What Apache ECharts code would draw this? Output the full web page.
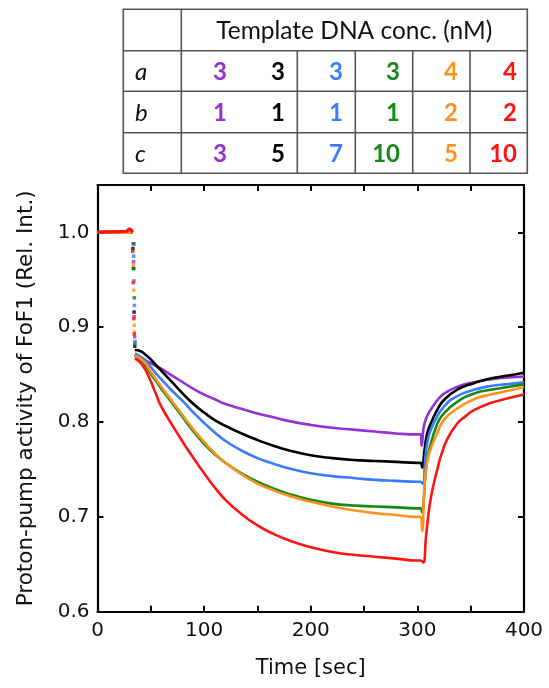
<!DOCTYPE html>
<html><head><meta charset="utf-8">
<script src="https://cdn.jsdelivr.net/npm/echarts@6/dist/echarts.min.js"></script>
<style>html,body{margin:0;padding:0;background:#fff}#c{width:549px;height:688px}</style>
</head><body><div id="c"></div>
<script>
// ---------- table content ----------
const tableHeader = 'Template DNA conc. (nM)';
const rowLabels = ['a', 'b', 'c'];
const rowA = [3, 3, 3, 3, 4, 4];
const rowB = [1, 1, 1, 1, 2, 2];
const rowC = [3, 5, 7, 10, 5, 10];

// ---------- series ----------
const seriesNames = ['purple', 'black', 'blue', 'green', 'orange', 'red'];
const seriesColors = ['#9430d8', '#000000', '#3a7bff', '#138a13', '#ff921f', '#ff1414'];

// baseline (before injection)
const purpleBase = [[0, 1.0], [33, 1.0]];
const blackBase  = [[0, 1.0], [33, 1.0]];
const blueBase   = [[0, 1.0], [33, 1.0]];
const greenBase  = [[0, 1.0], [33, 1.0]];
const orangeBase = [[0, 1.0], [33, 1.0]];
const redBase    = [[0, 1.0], [27, 1.001], [30, 1.004], [32, 1.002], [33, 1.0]];

// scattered points during the fast drop
const purpleDrop = [[33.4, 0.988], [33.8, 0.969], [34.4, 0.911], [34.8, 0.890]];
const blackDrop  = [[33.2, 0.983], [33.7, 0.962], [34.3, 0.916], [35.0, 0.880]];
const blueDrop   = [[33.9, 0.975], [34.2, 0.949], [34.6, 0.923], [35.2, 0.885]];
const greenDrop  = [[34.2, 0.988], [34.0, 0.962], [34.5, 0.931], [35.1, 0.883]];
const orangeDrop = [[33.6, 0.966], [34.1, 0.939], [34.4, 0.902], [34.7, 0.895]];
const redDrop    = [[33.0, 0.980], [33.5, 0.947], [34.0, 0.909], [34.4, 0.893]];

// main traces (decay, then recovery after t = 300 s)
const purpleCurve = [[35, 0.871], [40, 0.868], [45, 0.865], [50, 0.862], [55, 0.859], [60, 0.856], [70, 0.849], [80, 0.842],
  [90, 0.835], [100, 0.829], [110, 0.824], [120, 0.819], [135, 0.814], [150, 0.809], [165, 0.805], [180, 0.801], [200, 0.797],
  [220, 0.794], [240, 0.792], [260, 0.790], [280, 0.788], [300, 0.787], [303, 0.787], [304, 0.775], [306, 0.795],
  [309, 0.806], [312, 0.812], [318, 0.822], [325, 0.830], [337, 0.837], [353, 0.842], [368, 0.845], [385, 0.847], [400, 0.848]];
const blackCurve = [[35, 0.876], [40, 0.875], [45, 0.871], [50, 0.866], [55, 0.860], [60, 0.854], [70, 0.842], [80, 0.830],
  [90, 0.819], [100, 0.810], [110, 0.802], [120, 0.796], [135, 0.788], [150, 0.781], [165, 0.775], [180, 0.770], [200, 0.765],
  [220, 0.762], [240, 0.760], [260, 0.759], [280, 0.758], [300, 0.757], [303, 0.757], [304.5, 0.752],
  [306.6, 0.770], [309, 0.787], [312, 0.797], [318.5, 0.8125], [324.7, 0.823], [337, 0.834], [353, 0.841], [368.5, 0.846], [385, 0.849], [400, 0.852]];
const blueCurve = [[35, 0.872], [40, 0.869], [45, 0.865], [50, 0.858], [55, 0.851], [60, 0.845], [70, 0.833], [80, 0.822],
  [90, 0.810], [100, 0.799], [110, 0.789], [120, 0.780], [135, 0.770], [150, 0.762], [165, 0.756], [180, 0.751], [200, 0.746],
  [220, 0.743], [240, 0.741], [260, 0.739], [280, 0.738], [300, 0.737], [303, 0.737], [305, 0.735], [307.7, 0.765],
  [310.6, 0.785], [315, 0.798], [324.7, 0.816], [337, 0.827], [353, 0.834], [368.5, 0.838], [385, 0.840], [400, 0.842]];
const greenCurve = [[35, 0.870], [40, 0.866], [45, 0.860], [50, 0.851], [55, 0.843], [60, 0.835], [70, 0.820], [80, 0.805],
  [90, 0.790], [100, 0.777], [110, 0.766], [120, 0.757], [135, 0.746], [150, 0.737], [165, 0.730], [180, 0.724], [200, 0.718],
  [220, 0.714], [240, 0.712], [260, 0.711], [280, 0.710], [300, 0.709], [303, 0.709], [304.5, 0.705], [306, 0.718],
  [307.7, 0.746], [310.6, 0.768], [318.5, 0.798], [324.7, 0.809], [337, 0.821], [353, 0.830], [368.5, 0.834], [385, 0.837], [400, 0.840]];
const orangeCurve = [[35, 0.870], [40, 0.867], [45, 0.862], [50, 0.853], [55, 0.845], [60, 0.837], [70, 0.822], [80, 0.807],
  [90, 0.792], [100, 0.779], [110, 0.767], [120, 0.757], [135, 0.745], [150, 0.735], [165, 0.728], [180, 0.722], [200, 0.716],
  [220, 0.711], [240, 0.707], [260, 0.704], [280, 0.702], [300, 0.700], [303, 0.700], [304.5, 0.685], [306.6, 0.732],
  [309, 0.757], [312, 0.770], [318.5, 0.788], [324.7, 0.802], [337, 0.814], [353, 0.824], [368.5, 0.829], [385, 0.833], [400, 0.837]];
const redCurve = [[35, 0.867], [40, 0.863], [45, 0.855], [50, 0.843], [55, 0.829], [60, 0.816], [70, 0.797], [80, 0.779],
  [90, 0.762], [100, 0.746], [110, 0.731], [120, 0.718], [135, 0.703], [150, 0.691], [165, 0.682], [180, 0.675], [200, 0.668],
  [220, 0.663], [240, 0.660], [260, 0.658], [280, 0.656], [300, 0.654], [303, 0.654], [305.5, 0.652], [308, 0.678],
  [310, 0.699], [312, 0.716], [315, 0.733], [318.5, 0.749], [322, 0.764], [328, 0.782], [337, 0.798], [345, 0.806],
  [353, 0.8125], [368.5, 0.820], [385, 0.825], [400, 0.829]];

const baseData  = [purpleBase, blackBase, blueBase, greenBase, orangeBase, redBase];
const dropData  = [purpleDrop, blackDrop, blueDrop, greenDrop, orangeDrop, redDrop];
const curveData = [purpleCurve, blackCurve, blueCurve, greenCurve, orangeCurve, redCurve];

// ---------- axes ----------
const xMin = 0, xMax = 400, xTickStep = 50, xLabelStep = 100;
const yMin = 0.6, yMax = 1.05, yTickStep = 0.1;
const xName = 'Time [sec]';
const yName = 'Proton-pump activity of FoF1 (Rel. Int.)';

const FONT = 'DejaVu Sans';
const TFONT = 'Lato';

// ---------- build ----------
const chart = echarts.init(document.getElementById('c'), null, {renderer: 'canvas'});

const series = [];
seriesNames.forEach((n, i) => {
  series.push({name: n + '-base', type: 'line', data: baseData[i], showSymbol: false, symbol: 'none',
    lineStyle: {color: seriesColors[i], width: 3.2}, animation: false, z: 2});
  series.push({name: n + '-drop', type: 'scatter', data: dropData[i], symbolSize: 3.5, symbol: 'rect',
    itemStyle: {color: seriesColors[i]}, animation: false, z: 2});
  series.push({name: n, type: 'line', data: curveData[i], showSymbol: false, symbol: 'none', smooth: 0.5,
    lineStyle: {color: seriesColors[i], width: 2.6}, animation: false, z: 2});
});

// table graphic
const T = {x0: 123.3, x1: 527.3, y0: 9.3, y1: 173.3, colSplit: 181.3, hLines: [50.7, 91.3, 132.7],
  vLines: [297.3, 355.3, 412.7, 470], numRight: [227, 285, 343, 400, 458, 517]};
const lineStyle = {stroke: '#555', lineWidth: 1.6};
const g = [];
g.push({type: 'rect', shape: {x: T.x0, y: T.y0, width: T.x1 - T.x0, height: T.y1 - T.y0}, style: {fill: null, stroke: '#555', lineWidth: 1.6}});
g.push({type: 'line', shape: {x1: T.colSplit, y1: T.y0, x2: T.colSplit, y2: T.y1}, style: lineStyle});
T.hLines.forEach(y => g.push({type: 'line', shape: {x1: T.x0, y1: y, x2: T.x1, y2: y}, style: lineStyle}));
T.vLines.forEach(x => g.push({type: 'line', shape: {x1: x, y1: T.hLines[0], x2: x, y2: T.y1}, style: lineStyle}));
g.push({type: 'text', x: (T.colSplit + T.x1) / 2, y: (T.y0 + T.hLines[0]) / 2 + 1,
  style: {text: tableHeader, font: '24.5px ' + TFONT, fill: '#111', textAlign: 'center', textVerticalAlign: 'middle'}});
const rowTops = [T.hLines[0], T.hLines[1], T.hLines[2], T.y1];
const rows = [rowA, rowB, rowC];
rows.forEach((r, ri) => {
  const yc = (rowTops[ri] + rowTops[ri + 1]) / 2 + 1;
  g.push({type: 'text', x: 135, y: yc, style: {text: rowLabels[ri], font: 'italic 24px ' + TFONT, fill: '#111', textAlign: 'left', textVerticalAlign: 'middle'}});
  r.forEach((v, ci) => {
    g.push({type: 'text', x: T.numRight[ci], y: yc, style: {text: String(v), font: 'bold 24px ' + TFONT, fill: seriesColors[ci], textAlign: 'right', textVerticalAlign: 'middle'}});
  });
});

const axisLineStyle = {color: '#000', width: 2.2};
const tickStyle = {show: true, inside: true, length: 6, lineStyle: {color: '#000', width: 2}};

chart.setOption({
  backgroundColor: '#fff',
  animation: false,
  grid: {left: 97.5, right: 25, top: 185, bottom: 76.3, containLabel: false, outerBoundsMode: 'none'},
  xAxis: [
    {type: 'value', min: xMin, max: xMax, interval: xTickStep, position: 'bottom',
      name: xName, nameLocation: 'middle', nameGap: 46, nameTextStyle: {fontFamily: FONT, fontSize: 21, color: '#111'},
      axisLine: {show: true, onZero: false, lineStyle: axisLineStyle}, axisTick: tickStyle,
      axisLabel: {fontFamily: FONT, fontSize: 20, color: '#111', margin: 9, formatter: v => (v % xLabelStep === 0 ? String(v) : '')},
      splitLine: {show: false}},
    {type: 'value', min: xMin, max: xMax, interval: xTickStep, position: 'top',
      axisLine: {show: true, onZero: false, lineStyle: axisLineStyle}, axisTick: tickStyle,
      axisLabel: {show: false}, splitLine: {show: false}}
  ],
  yAxis: [
    {type: 'value', min: yMin, max: yMax, interval: yTickStep, position: 'left',
      name: yName, nameLocation: 'middle', nameGap: 60, nameRotate: 90, nameTextStyle: {fontFamily: FONT, fontSize: 21.5, color: '#111'},
      axisLine: {show: true, onZero: false, lineStyle: axisLineStyle}, axisTick: tickStyle,
      axisLabel: {fontFamily: FONT, fontSize: 20, color: '#111', margin: 8,
        formatter: v => (v <= 1.0001 ? v.toFixed(1) : '')},
      splitLine: {show: false}},
    {type: 'value', min: yMin, max: yMax, interval: yTickStep, position: 'right',
      axisLine: {show: true, onZero: false, lineStyle: axisLineStyle}, axisTick: tickStyle,
      axisLabel: {show: false}, splitLine: {show: false}}
  ],
  series: series,
  graphic: g
});
</script>
</body></html>
